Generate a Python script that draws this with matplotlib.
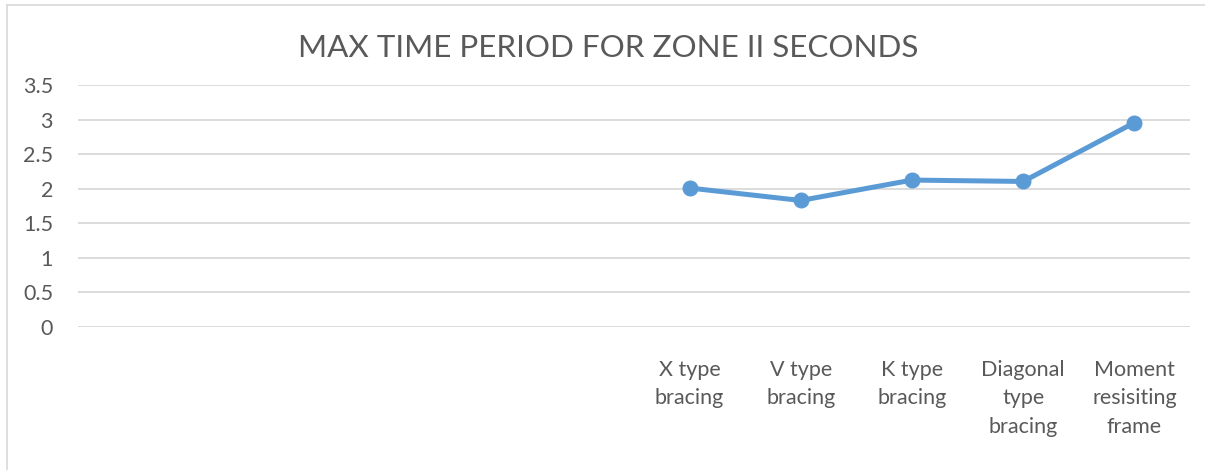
import matplotlib
matplotlib.use("Agg")
import matplotlib.pyplot as plt
from matplotlib.lines import Line2D

categories = ["", "", "", "", "",
              "X type\nbracing", "V type\nbracing", "K type\nbracing",
              "Diagonal\ntype\nbracing", "Moment\nresisiting\nframe"]
values = [None, None, None, None, None, 2.01, 1.83, 2.125, 2.105, 2.955]
yticks = [0, 0.5, 1, 1.5, 2, 2.5, 3, 3.5]
title = "MAX TIME PERIOD FOR ZONE II SECONDS"

plt.rcParams['font.family'] = ['Lato', 'DejaVu Sans']

fig = plt.figure(figsize=(12.05, 4.70), dpi=100)
ax = fig.add_axes([78/1205, 1-327/470, (1190-78)/1205, (327-85)/470])

x = list(range(len(categories)))
xs = [i for i, v in zip(x, values) if v is not None]
ys = [v for v in values if v is not None]
ax.plot(xs, ys, color="#5b9bd5", lw=3.6, marker="o", ms=10.5,
        solid_capstyle="round", solid_joinstyle="round", zorder=3)

ax.set_xlim(-0.5, len(categories) - 0.5)
ax.set_ylim(0, 3.5)
ax.set_yticks(yticks)
ax.set_yticklabels([f"{t:g}" for t in yticks])
ax.set_xticks(x)
ax.set_xticklabels(categories, linespacing=1.55, va="top")
ax.tick_params(axis="both", length=0, labelsize=15.5, colors="#595959")
ax.tick_params(axis="x", pad=23.5)
ax.tick_params(axis="y", pad=18)
ax.grid(axis="y", color="#d9d9d9", lw=1.3)
ax.set_axisbelow(True)
for s in ax.spines.values():
    s.set_visible(False)

fig.text(608/1205, 1-48/470, title, ha="center", va="center",
         fontsize=22.6, color="#595959")

fig.add_artist(Line2D([7.5/1205, 7.5/1205], [0, 1-5/470], transform=fig.transFigure,
                      color="#d9d9d9", lw=1.2))
fig.add_artist(Line2D([7.5/1205, 1], [1-5/470, 1-5/470], transform=fig.transFigure,
                      color="#d9d9d9", lw=1.2))

fig.savefig("out.png", dpi=100, facecolor="white")
